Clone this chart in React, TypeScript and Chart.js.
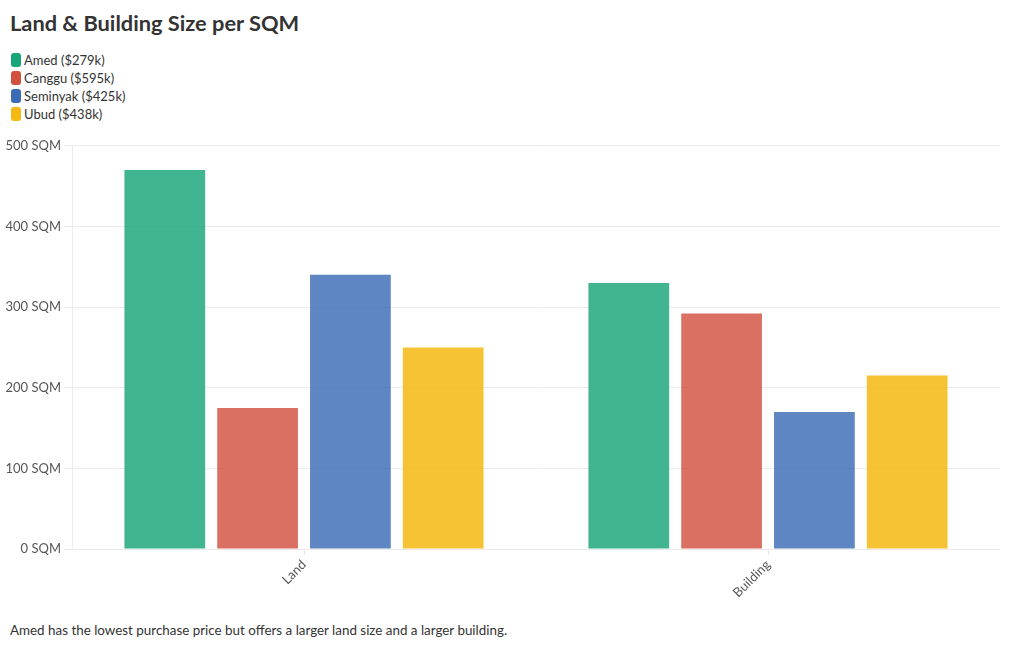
import React, { useEffect, useRef } from "react";
import { Chart, registerables } from "chart.js";

Chart.register(...registerables);

const categories = ["Land", "Building"];
const seriesNames = ["Amed ($279k)", "Canggu ($595k)", "Seminyak ($425k)", "Ubud ($438k)"];
const amed = [470, 330];
const canggu = [175, 292];
const seminyak = [340, 170];
const ubud = [250, 215];
const yTicks = [0, 100, 200, 300, 400, 500];
const legendColors = ["#17a57a", "#d1513e", "#3a6bb5", "#f4b912"];
const barColors = ["rgba(23,165,122,0.82)", "rgba(209,81,62,0.82)", "rgba(58,107,181,0.82)", "rgba(244,185,18,0.85)"];

const FONT = "Lato, 'Noto Sans', sans-serif";

export default function App() {
  const ref = useRef<HTMLCanvasElement>(null);
  useEffect(() => {
    document.body.style.margin = "0";
    const values = [amed, canggu, seminyak, ubud];
    const chart = new Chart(ref.current!, {
      type: "bar",
      data: {
        labels: categories,
        datasets: seriesNames.map((n, i) => ({
          label: n,
          data: values[i],
          backgroundColor: barColors[i],
          borderWidth: 0,
          categoryPercentage: 0.8,
          barPercentage: 0.87,
        })),
      },
      options: {
        animation: false,
        responsive: false,
        maintainAspectRatio: false,
        layout: { padding: { top: 5, right: 0, left: 0, bottom: 0 } },
        plugins: { legend: { display: false }, tooltip: { enabled: false } },
        scales: {
          y: {
            min: 0,
            max: 500,
            afterFit: (s: any) => { s.width = 72; },
            afterBuildTicks: (s: any) => { s.ticks = yTicks.map((v) => ({ value: v })); },
            grid: { color: "#ececec", tickLength: 8, drawTicks: true },
            border: { color: "#ececec" },
            ticks: {
              padding: 3,
              color: "#555",
              font: { family: FONT, size: 13 },
              callback: (v: any) => `${v} SQM`,
            },
          },
          x: {
            afterFit: (s: any) => { s.height = 66; },
            grid: { offset: false, drawOnChartArea: false, drawTicks: true, tickLength: 6, color: "#e6e6e6" },
            border: { color: "#ececec" },
            ticks: {
              minRotation: 45,
              maxRotation: 45,
              padding: 2,
              color: "#555",
              font: { family: FONT, size: 13 },
            },
          },
        },
      },
    });
    return () => chart.destroy();
  }, []);

  return (
    <div style={{ position: "relative", width: 1020, height: 650, fontFamily: FONT, color: "#333" }}>
      <div style={{ position: "absolute", left: 10, top: 9, fontSize: 21.8, fontWeight: 700, color: "#333" }}>
        Land &amp; Building Size per SQM
      </div>
      <div style={{ position: "absolute", left: 11, top: 51 }}>
        {seriesNames.map((n, i) => (
          <div key={n} style={{ display: "flex", alignItems: "center", height: 18, fontSize: 13 }}>
            <span style={{ display: "inline-block", width: 10, height: 14, borderRadius: 3, background: legendColors[i], marginRight: 3 }} />
            <span>{n}</span>
          </div>
        ))}
      </div>
      <canvas ref={ref} width={1000} height={480} style={{ position: "absolute", left: 0, top: 135, width: 1000, height: 480 }} />
      <div style={{ position: "absolute", left: 10, top: 622, fontSize: 13.4, color: "#333" }}>
        Amed has the lowest purchase price but offers a larger land size and a larger building.
      </div>
    </div>
  );
}
